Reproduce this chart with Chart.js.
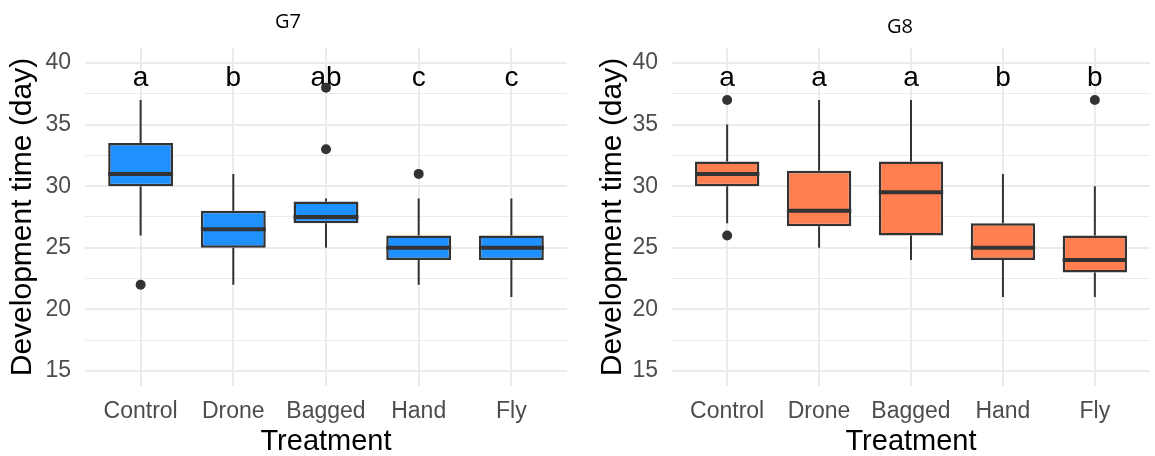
<!DOCTYPE html>
<html><head><meta charset="utf-8">
<script src="https://cdn.jsdelivr.net/npm/chart.js@4"></script>
<style>
html,body{margin:0;padding:0;background:#fff;}
#wrap{position:relative;width:1155px;height:456px;overflow:hidden;}
.panel{position:absolute;top:0;height:456px;}
</style></head><body>
<div id="wrap">
<div class="panel" style="left:0;width:577px"><canvas id="c1" width="577" height="456"></canvas></div>
<div class="panel" style="left:577px;width:578px"><canvas id="c2" width="578" height="456"></canvas></div>
</div>
<script>
const categories = ['Control','Drone','Bagged','Hand','Fly'];
const yTickLabels = [15,20,25,30,35,40];
const yMinorGrid = [17.5,22.5,27.5,32.5,37.5];
const letterY = 38.1;

const g7Min = [26,22,25,22,21];
const g7Q1 = [30,25,27,24,24];
const g7Median = [31,26.5,27.5,25,25];
const g7Q3 = [33.5,28,28.75,26,26];
const g7Max = [37,31,29,29,29];
const g7Outliers = [[22],[],[33,38],[31],[]];
const g7Letters = ['a','b','ab','c','c'];

const g8Min = [27,25,24,21,21];
const g8Q1 = [30,26.75,26,24,23];
const g8Median = [31,28,29.5,25,24];
const g8Q3 = [32,31.25,32,27,26];
const g8Max = [35,37,37,31,30];
const g8Outliers = [[26,37],[],[],[],[37]];
const g8Letters = ['a','a','a','b','b'];

const FONT = '"Liberation Sans", Arial, sans-serif';
const DARK = '#333333';

const boxExtras = {
  id: 'boxExtras',
  beforeDatasetsDraw(chart, args, o) {
    const ctx = chart.ctx, xs = chart.scales.x, ys = chart.scales.y;
    ctx.save();
    ctx.strokeStyle = DARK; ctx.lineWidth = 2; ctx.lineCap = 'butt';
    o.q1.forEach((q1, i) => {
      const x = xs.getPixelForValue(i);
      ctx.beginPath();
      ctx.moveTo(x, ys.getPixelForValue(o.q3[i])); ctx.lineTo(x, ys.getPixelForValue(o.max[i]));
      ctx.moveTo(x, ys.getPixelForValue(q1)); ctx.lineTo(x, ys.getPixelForValue(o.min[i]));
      ctx.stroke();
    });
    ctx.fillStyle = '#000';
    ctx.font = '28px ' + FONT;
    ctx.textAlign = 'center'; ctx.textBaseline = 'alphabetic';
    o.letters.forEach((t, i) => {
      ctx.fillText(t, xs.getPixelForValue(i), ys.getPixelForValue(letterY));
    });
    ctx.restore();
  },
  afterDatasetsDraw(chart, args, o) {
    const ctx = chart.ctx, xs = chart.scales.x, ys = chart.scales.y;
    const meta = chart.getDatasetMeta(1);
    ctx.save();
    ctx.strokeStyle = DARK; ctx.lineWidth = 4; ctx.lineCap = 'butt';
    o.median.forEach((m, i) => {
      const el = meta.data[i];
      const x = xs.getPixelForValue(i), w = el ? el.width : 65;
      const y = ys.getPixelForValue(m);
      ctx.beginPath(); ctx.moveTo(x - w/2, y); ctx.lineTo(x + w/2, y); ctx.stroke();
    });
    ctx.restore();
  },
  afterDraw(chart, args, o) {
    const ctx = chart.ctx;
    ctx.save();
    ctx.fillStyle = '#000';
    ctx.font = '20px "Open Sans", "Noto Sans", sans-serif';
    ctx.textAlign = 'center'; ctx.textBaseline = 'middle';
    ctx.fillText(o.title, o.titleX, o.titleY);
    ctx.restore();
  }
};

function makeChart(id, fill, mins, q1s, meds, q3s, maxs, outs, letters, title, titleX, titleY, yAxisWidth, yTitlePad, padRight) {
  const boxData = q1s.map((q, i) => ({x: i, y: [q, q3s[i]]}));
  const outData = [];
  outs.forEach((arr, i) => arr.forEach(v => outData.push({x: i, y: v})));
  return new Chart(document.getElementById(id), {
    type: 'bar',
    data: {
      datasets: [
        { type: 'scatter', data: outData, pointRadius: 5, pointBackgroundColor: DARK, pointBorderWidth: 0, pointBorderColor: DARK },
        { type: 'bar', data: boxData, backgroundColor: fill, borderColor: DARK, borderWidth: 2.5, borderSkipped: false,
          categoryPercentage: 1, barPercentage: 0.7 }
      ]
    },
    options: {
      responsive: false, animation: false, events: [],
      layout: { padding: { top: 47.6, right: padRight, left: 0, bottom: 0 } },
      plugins: {
        legend: { display: false }, tooltip: { enabled: false },
        boxExtras: { min: mins, q1: q1s, median: meds, q3: q3s, max: maxs, letters: letters, title: title, titleX: titleX, titleY: titleY }
      },
      scales: {
        x: {
          type: 'linear', min: -0.6, max: 4.6, offset: false,
          afterBuildTicks: s => { s.ticks = categories.map((c, i) => ({value: i})); },
          afterFit: s => { s.height = 456 - 386.4; },
          ticks: { callback: v => categories[v] ?? '', font: {family: FONT, size: 23}, color: '#4D4D4D', padding: 11,
                   autoSkip: false, maxRotation: 0, minRotation: 0 },
          grid: { color: '#EBEBEB', lineWidth: 2, drawTicks: false, offset: false },
          border: { display: false },
          title: { display: true, text: 'Treatment', font: {family: FONT, size: 29}, color: '#000', padding: {top: 0, bottom: -3} }
        },
        y: {
          type: 'linear', min: 13.75, max: 41.25, beginAtZero: false,
          afterBuildTicks: s => { s.ticks = [...yTickLabels, ...yMinorGrid].sort((a, b) => a - b).map(v => ({value: v})); },
          afterFit: s => { s.width = yAxisWidth; },
          ticks: { callback: v => yTickLabels.includes(v) ? String(v) : '', font: {family: FONT, size: 23}, color: '#4D4D4D',
                   padding: 14, autoSkip: false },
          grid: { color: '#EBEBEB', lineWidth: c => (c.tick && yTickLabels.includes(c.tick.value)) ? 2 : 1, drawTicks: false },
          border: { display: false },
          title: { display: true, text: 'Development time (day)', font: {family: FONT, size: 30}, color: '#000', padding: {top: yTitlePad, bottom: 0} }
        }
      }
    },
    plugins: [boxExtras]
  });
}

makeChart('c1', '#1E90FF', g7Min, g7Q1, g7Median, g7Q3, g7Max, g7Outliers, g7Letters, 'G7', 288, 22.5, 85, 5, 10);
makeChart('c2', '#FF7F50', g8Min, g8Q1, g8Median, g8Q3, g8Max, g8Outliers, g8Letters, 'G8', 323, 27.5, 95, 18, 2);
</script>
</body></html>
